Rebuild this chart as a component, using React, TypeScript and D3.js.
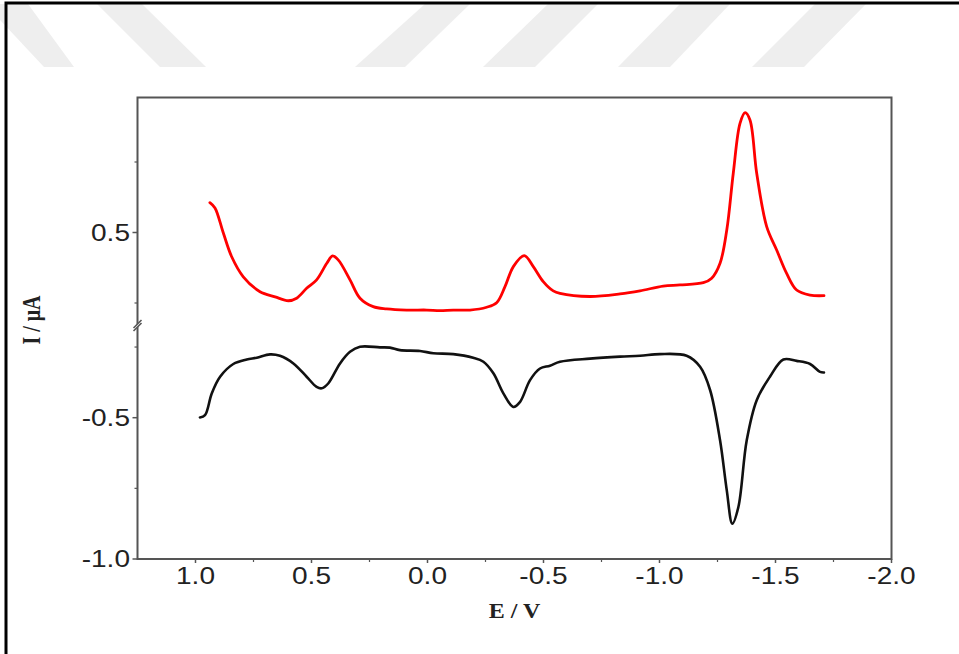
import React, { useEffect, useRef } from 'react';
import * as d3 from 'd3';

// Potential (V) and current (µA)
const redE = [0.938, 0.916, 0.880, 0.844, 0.794, 0.722, 0.657, 0.600, 0.564, 0.521, 0.478, 0.434, 0.409, 0.384, 0.334, 0.291, 0.234, 0.176, 0.090, 0.003, -0.054, -0.111, -0.183, -0.255, -0.298, -0.334, -0.370, -0.417, -0.456, -0.499, -0.542, -0.571, -0.700, -0.830, -0.916, -1.016, -1.088, -1.189, -1.225, -1.261, -1.290, -1.318, -1.347, -1.369, -1.390, -1.419, -1.462, -1.505, -1.548, -1.591, -1.649, -1.709];
const redI = [0.606, 0.587, 0.498, 0.414, 0.343, 0.290, 0.272, 0.258, 0.267, 0.302, 0.332, 0.391, 0.417, 0.402, 0.332, 0.267, 0.237, 0.229, 0.225, 0.225, 0.223, 0.225, 0.225, 0.235, 0.251, 0.308, 0.379, 0.418, 0.379, 0.326, 0.293, 0.284, 0.273, 0.282, 0.293, 0.310, 0.314, 0.322, 0.338, 0.391, 0.509, 0.710, 0.887, 0.925, 0.899, 0.710, 0.521, 0.438, 0.355, 0.296, 0.278, 0.276];

const blackE = [0.981, 0.959, 0.930, 0.894, 0.837, 0.779, 0.736, 0.679, 0.636, 0.578, 0.521, 0.478, 0.456, 0.428, 0.377, 0.334, 0.291, 0.205, 0.162, 0.119, 0.032, -0.025, -0.111, -0.197, -0.241, -0.284, -0.327, -0.370, -0.399, -0.442, -0.485, -0.528, -0.571, -0.700, -0.830, -0.916, -1.002, -1.117, -1.175, -1.218, -1.261, -1.290, -1.314, -1.340, -1.376, -1.419, -1.476, -1.534, -1.591, -1.649, -1.692, -1.709];
const blackI = [-0.499, -0.491, -0.414, -0.355, -0.310, -0.294, -0.288, -0.276, -0.281, -0.308, -0.355, -0.391, -0.396, -0.379, -0.308, -0.267, -0.249, -0.251, -0.252, -0.261, -0.264, -0.272, -0.275, -0.288, -0.302, -0.343, -0.414, -0.462, -0.444, -0.367, -0.326, -0.316, -0.302, -0.291, -0.284, -0.281, -0.275, -0.281, -0.320, -0.402, -0.580, -0.757, -0.875, -0.816, -0.580, -0.438, -0.355, -0.294, -0.299, -0.310, -0.338, -0.340];

const xMajor = [1.0, 0.5, 0.0, -0.5, -1.0, -1.5, -2.0];
const xMinor = [0.75, 0.25, -0.25, -0.75, -1.25, -1.75];
const yUpperMajor = [0.5];
const yUpperMinor = [0.75, 0.25];
const yLowerMajor = [-0.5, -1.0];
const yLowerMinor = [-0.25, -0.75];

// faint watermark stripes across the top (top-left, top-right, bottom-right, bottom-left x)
const stripes = [
  [-15, 28, 74, 44],
  [97, 142, 206, 160],
  [425, 470, 405, 355],
  [548, 598, 535, 483],
  [680, 730, 670, 618],
  [815, 866, 804, 752],
];

export default function App() {
  const svgRef = useRef<SVGSVGElement | null>(null);

  useEffect(() => {
    if (!svgRef.current) return;
    const svg = d3.select(svgRef.current);
    svg.selectAll('*').remove();

    const width = 959;
    const height = 654;
    const left = 137.5, right = 891.5, top = 97.5, bottom = 559;
    const breakY = 325;

    svg.append('rect').attr('width', width).attr('height', height).attr('fill', '#fff');

    // watermark
    svg.selectAll('.stripe')
      .data(stripes)
      .join('polygon')
      .attr('class', 'stripe')
      .attr('fill', '#eeeeee')
      .attr('points', d => `${d[0]},4 ${d[1]},4 ${d[2]},67 ${d[3]},67`);

    // outer frame
    svg.append('path')
      .attr('d', `M6,${height} V3 H${width}`)
      .attr('fill', 'none')
      .attr('stroke', '#000')
      .attr('stroke-width', 3);

    // scales
    const x = d3.scaleLinear().domain([1.25, -2.0]).range([left, right]);
    const yUp = d3.scaleLinear().domain([0.5 - (breakY - 232.5) / 282, 0.5 + (232.5 - top) / 282]).range([breakY, top]);
    const yLo = d3.scaleLinear().domain([-1.0, -0.5 + (417.5 - breakY) / 282]).range([bottom, breakY]);

    const axisColor = '#555';
    const tickFont = '"Liberation Sans", Arial, sans-serif';

    // box
    svg.append('rect')
      .attr('x', left).attr('y', top)
      .attr('width', right - left).attr('height', bottom - top)
      .attr('fill', 'none')
      .attr('stroke', axisColor)
      .attr('stroke-width', 2);

    // x ticks
    const g = svg.append('g');
    g.selectAll('.xt')
      .data(xMajor)
      .join('line')
      .attr('x1', d => x(d)).attr('x2', d => x(d))
      .attr('y1', bottom).attr('y2', bottom + 4)
      .attr('stroke', axisColor).attr('stroke-width', 1.5);
    g.selectAll('.xm')
      .data(xMinor)
      .join('line')
      .attr('x1', d => x(d)).attr('x2', d => x(d))
      .attr('y1', bottom).attr('y2', bottom + 3)
      .attr('stroke', axisColor).attr('stroke-width', 1.2);
    g.selectAll('.xl')
      .data(xMajor)
      .join('text')
      .attr('transform', d => `translate(${x(d)},584) scale(1.22,1)`)
      .attr('text-anchor', 'middle')
      .attr('font-family', tickFont)
      .attr('font-size', 23)
      .attr('fill', '#222')
      .text(d => d.toFixed(1));

    // y ticks
    const yTicks = [
      ...yUpperMajor.map(v => ({ v, y: yUp(v), major: true })),
      ...yLowerMajor.map(v => ({ v, y: yLo(v), major: true })),
      ...yUpperMinor.map(v => ({ v, y: yUp(v), major: false })),
      ...yLowerMinor.map(v => ({ v, y: yLo(v), major: false })),
    ];
    g.selectAll('.yt')
      .data(yTicks)
      .join('line')
      .attr('x1', left).attr('x2', d => left - (d.major ? 5 : 3))
      .attr('y1', d => d.y).attr('y2', d => d.y)
      .attr('stroke', axisColor).attr('stroke-width', d => d.major ? 1.5 : 1.2);
    g.selectAll('.yl')
      .data(yTicks.filter(d => d.major))
      .join('text')
      .attr('transform', d => `translate(130,${d.y + 8}) scale(1.22,1)`)
      .attr('text-anchor', 'end')
      .attr('font-family', tickFont)
      .attr('font-size', 23)
      .attr('fill', '#222')
      .text(d => d.v.toFixed(1));

    // axis break mark
    svg.append('polygon')
      .attr('points', `${left - 4},${breakY + 3} ${left + 4},${breakY - 5} ${left + 4},${breakY - 2} ${left - 4},${breakY + 6}`)
      .attr('fill', '#fff');
    svg.append('line')
      .attr('x1', left - 4).attr('y1', breakY + 3).attr('x2', left + 4).attr('y2', breakY - 5)
      .attr('stroke', axisColor).attr('stroke-width', 1.6);
    svg.append('line')
      .attr('x1', left - 4).attr('y1', breakY + 6).attr('x2', left + 4).attr('y2', breakY - 2)
      .attr('stroke', axisColor).attr('stroke-width', 1.6);

    // curves
    const redData = redE.map((e, i) => [e, redI[i]] as [number, number]);
    const blackData = blackE.map((e, i) => [e, blackI[i]] as [number, number]);

    const lineUp = d3.line<[number, number]>()
      .x(d => x(d[0])).y(d => yUp(d[1]))
      .curve(d3.curveCatmullRom.alpha(0.5));
    const lineLo = d3.line<[number, number]>()
      .x(d => x(d[0])).y(d => yLo(d[1]))
      .curve(d3.curveCatmullRom.alpha(0.5));

    svg.append('path')
      .attr('d', lineUp(redData))
      .attr('fill', 'none')
      .attr('stroke', '#ff0000')
      .attr('stroke-width', 2.8)
      .attr('stroke-linejoin', 'round')
      .attr('stroke-linecap', 'round');
    svg.append('path')
      .attr('d', lineLo(blackData))
      .attr('fill', 'none')
      .attr('stroke', '#111')
      .attr('stroke-width', 2.6)
      .attr('stroke-linejoin', 'round')
      .attr('stroke-linecap', 'round');

    // axis titles
    svg.append('text')
      .attr('transform', `translate(${(left + right) / 2},618) scale(1.2,1)`)
      .attr('text-anchor', 'middle')
      .attr('font-family', '"Liberation Serif", "Times New Roman", serif')
      .attr('font-weight', 'bold')
      .attr('font-size', 20)
      .attr('fill', '#222')
      .text('E / V');
    svg.append('text')
      .attr('transform', `translate(40,320) scale(1.25,1) rotate(-90)`)
      .attr('text-anchor', 'middle')
      .attr('font-family', '"Liberation Serif", "Times New Roman", serif')
      .attr('font-weight', 'bold')
      .attr('font-size', 20)
      .attr('fill', '#222')
      .text('I / μA');
  }, []);

  return (
    <svg
      ref={svgRef}
      width={959}
      height={654}
      viewBox="0 0 959 654"
      style={{ position: 'absolute', left: 0, top: 0, display: 'block' }}
    />
  );
}
